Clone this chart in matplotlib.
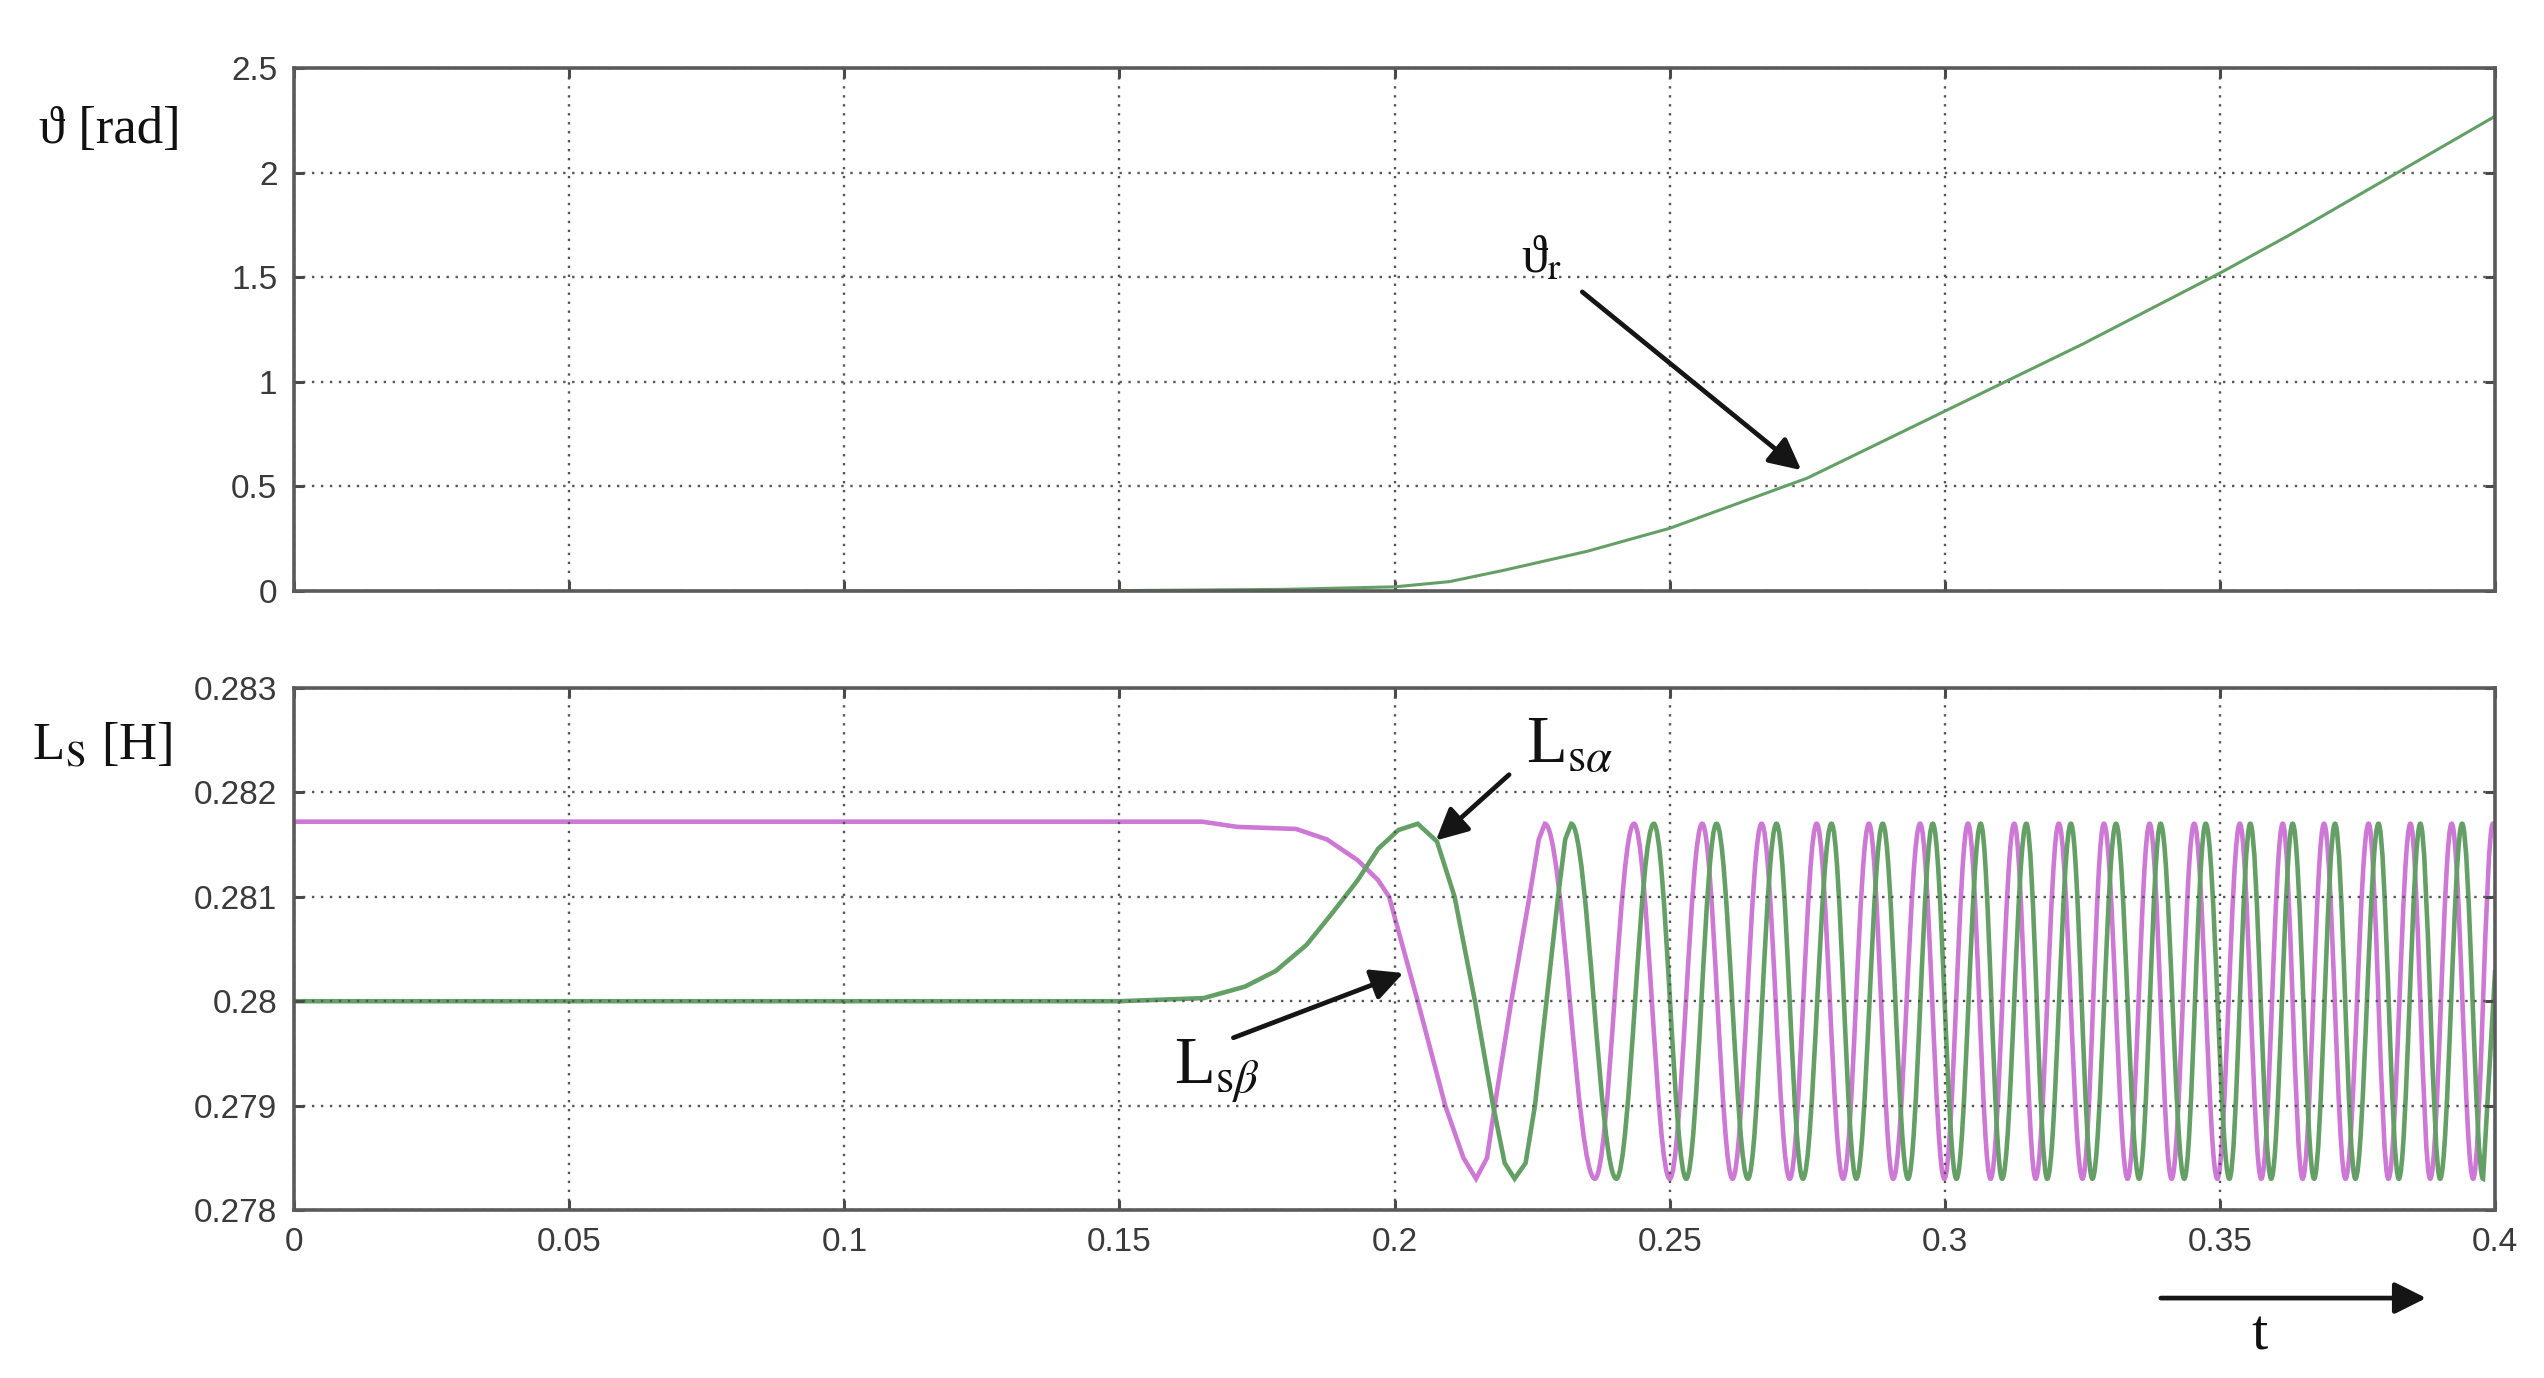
import matplotlib
matplotlib.use('Agg')
import matplotlib.pyplot as plt
from matplotlib.path import Path
from matplotlib.patches import PathPatch, FancyArrowPatch
import numpy as np

plt.rcParams['mathtext.fontset'] = 'stix'

# rotor angle (top panel)
theta_t = [0.1, 0.15, 0.18, 0.2, 0.21, 0.22, 0.235, 0.25, 0.2625, 0.275, 0.2875,
           0.3, 0.3125, 0.325, 0.3375, 0.35, 0.3625, 0.375, 0.3875, 0.4]
theta_v = [0.0, 0.002, 0.008, 0.02, 0.045, 0.10, 0.19, 0.30, 0.42, 0.54, 0.70,
           0.86, 1.02, 1.18, 1.35, 1.52, 1.70, 1.89, 2.08, 2.27]

# inductances (bottom panel)
L_max = 0.28170
L_min = 0.27830

# L_s_alpha (green): start-up part, then peak / trough times
lsa_lead_t = [0.0, 0.15, 0.1653, 0.1728, 0.1784, 0.1840, 0.1886, 0.1933, 0.1970, 0.2007,
              0.2077, 0.2109, 0.2146, 0.2179, 0.2200, 0.2238, 0.2255, 0.2276, 0.2297, 0.2310, 0.4]
lsa_lead_v = [0.28000, 0.28000, 0.28003, 0.28014, 0.28029, 0.28054, 0.28084, 0.28116, 0.28146, 0.28164,
              0.28153, 0.28100, 0.28000, 0.27900, 0.27845, 0.27845, 0.27900, 0.28000, 0.28100, 0.28155, 0.28030]
lsa_peak_t = [0.2042, 0.2321, 0.2471, 0.2585, 0.2694, 0.2794, 0.2887, 0.2978, 0.3065, 0.3148,
              0.3229, 0.3311, 0.3392, 0.3474, 0.3555, 0.3632, 0.3709, 0.3788, 0.3864, 0.3940]
lsa_trough_t = [0.2218, 0.2403, 0.2530, 0.2642, 0.2742, 0.2839, 0.2933, 0.3021, 0.3104, 0.3186,
                0.3268, 0.3353, 0.3435, 0.3517, 0.3593, 0.3671, 0.3746, 0.3825, 0.3900, 0.3978]

# L_s_beta (magenta)
lsb_lead_t = [0.0, 0.165, 0.1714, 0.1821, 0.1877, 0.1933, 0.1970, 0.1990, 0.2042, 0.2092,
              0.2125, 0.2168, 0.2182, 0.2212, 0.2245, 0.2262, 0.4]
lsb_lead_v = [0.28172, 0.28172, 0.28167, 0.28165, 0.28155, 0.28135, 0.28116, 0.28100, 0.28000, 0.27900,
              0.27850, 0.27850, 0.27900, 0.28000, 0.28100, 0.28155, 0.28168]
lsb_peak_t = [0.2273, 0.2435, 0.2559, 0.2667, 0.2767, 0.2862, 0.2955, 0.3042, 0.3126, 0.3207,
              0.3289, 0.3372, 0.3453, 0.3536, 0.3614, 0.3689, 0.3770, 0.3846, 0.3921, 0.3996]
lsb_trough_t = [0.2148, 0.2364, 0.2500, 0.2614, 0.2718, 0.2815, 0.2906, 0.2999, 0.3083, 0.3165,
                0.3250, 0.3332, 0.3412, 0.3495, 0.3575, 0.3650, 0.3728, 0.3806, 0.3882, 0.3960]

x_ticks = [0, 0.05, 0.1, 0.15, 0.2, 0.25, 0.3, 0.35, 0.4]
x_labels = ['0', '0.05', '0.1', '0.15', '0.2', '0.25', '0.3', '0.35', '0.4']
y1_ticks = [0, 0.5, 1, 1.5, 2, 2.5]
y1_labels = ['0', '0.5', '1', '1.5', '2', '2.5']
y2_ticks = [0.278, 0.279, 0.28, 0.281, 0.282, 0.283]
y2_labels = ['0.278', '0.279', '0.28', '0.281', '0.282', '0.283']


def build(lead_t, lead_v, peak_t, trough_t):
    t = list(lead_t) + list(peak_t) + list(trough_t)
    v = list(lead_v) + [L_max] * len(peak_t) + [L_min] * len(trough_t)
    order = np.argsort(t)
    return np.array(t)[order], np.array(v)[order]


def wave_path(t, v, smooth_from):
    # straight segments for the start-up part, then a smooth curve through
    # the peaks and troughs (flat tangent at every extreme)
    verts = [(t[0], v[0])]
    codes = [Path.MOVETO]
    for i in range(1, len(t)):
        if t[i - 1] >= smooth_from and v[i - 1] in (L_max, L_min) and v[i] in (L_max, L_min):
            d = (t[i] - t[i - 1]) * 0.3634
            verts += [(t[i - 1] + d, v[i - 1]), (t[i] - d, v[i]), (t[i], v[i])]
            codes += [Path.CURVE4] * 3
        else:
            verts.append((t[i], v[i]))
            codes.append(Path.LINETO)
    return Path(verts, codes)


lsa_t, lsa_v = build(lsa_lead_t, lsa_lead_v, lsa_peak_t, lsa_trough_t)
lsb_t, lsb_v = build(lsb_lead_t, lsb_lead_v, lsb_peak_t, lsb_trough_t)

green = '#64a066'
magenta = '#cc78d4'
tick_font = ['Liberation Sans', 'DejaVu Sans']
serif = ['Liberation Serif', 'DejaVu Serif']

fig = plt.figure(figsize=(25.44, 13.78), dpi=100)
ax1 = fig.add_axes([0.1156, 0.5711, 0.8652, 0.3795])
ax2 = fig.add_axes([0.1156, 0.1219, 0.8652, 0.3788])


def style(ax):
    for s in ax.spines.values():
        s.set_color('#5a5a5a')
        s.set_linewidth(2.6)
    ax.grid(True, color='#555555', linestyle=(0, (1, 2.8)), linewidth=1.7)
    ax.tick_params(direction='in', length=7, width=2.2, color='#4a4a4a',
                   top=True, right=True, labelsize=24, labelcolor='#3a3a3a', pad=12)
    for lab in ax.get_xticklabels() + ax.get_yticklabels():
        lab.set_family(tick_font)
    ax.set_xlim(0, 0.4)


ax1.plot(theta_t, theta_v, color=green, linewidth=2.2)
ax1.set_ylim(0, 2.5)
ax1.set_xticks(x_ticks)
ax1.set_xticklabels([])
ax1.set_yticks(y1_ticks)
ax1.set_yticklabels(y1_labels)
style(ax1)

ax2.add_patch(PathPatch(wave_path(lsb_t, lsb_v, 0.2273), fill=False, edgecolor=magenta, linewidth=3.3))
ax2.add_patch(PathPatch(wave_path(lsa_t, lsa_v, 0.2321), fill=False, edgecolor=green, linewidth=3.3))
ax2.set_ylim(0.278, 0.283)
ax2.set_xticks(x_ticks)
ax2.set_xticklabels(x_labels)
ax2.set_yticks(y2_ticks)
ax2.set_yticklabels(y2_labels)
style(ax2)

arrow = dict(arrowstyle='-|>', color='#151515', lw=3.4, mutation_scale=48, shrinkA=0, shrinkB=0)

ax1.annotate('', xy=(0.2739, 0.578), xytext=(0.2341, 1.43), arrowprops=arrow)
ax1.text(0.2267, 1.582, 'ϑ' + r'$_\mathrm{r}$', family=serif, fontsize=38, ha='center', va='center', color='#111111')

ax2.annotate('', xy=(0.2075, 0.28154), xytext=(0.2208, 0.28217), arrowprops=arrow)
ax2.text(0.2319, 0.28244, r'L$_{\mathrm{s}\alpha}$', family=serif, fontsize=48, ha='center', va='center', color='#111111')
ax2.annotate('', xy=(0.2016, 0.28027), xytext=(0.1707, 0.27965), arrowprops=arrow)
ax2.text(0.1677, 0.27933, r'L$_{\mathrm{s}\beta}$', family=serif, fontsize=48, ha='center', va='center', color='#111111')

fig.text(0.0432, 0.9057, 'ϑ [rad]', family=serif, fontsize=38, ha='center', va='center', color='#111111')
fig.text(0.0401, 0.4586, r'L$_{\mathrm{S}}$ [H]', family=serif, fontsize=38, ha='center', va='center', color='#111111')

fig.add_artist(FancyArrowPatch((0.8483, 0.058), (0.9548, 0.058), transform=fig.transFigure,
                               arrowstyle='-|>', color='#151515', lw=3.4, mutation_scale=48))
fig.text(0.888, 0.031, 't', family=serif, fontsize=42, ha='center', va='center', color='#111111')

fig.savefig('out.png', dpi=100)
